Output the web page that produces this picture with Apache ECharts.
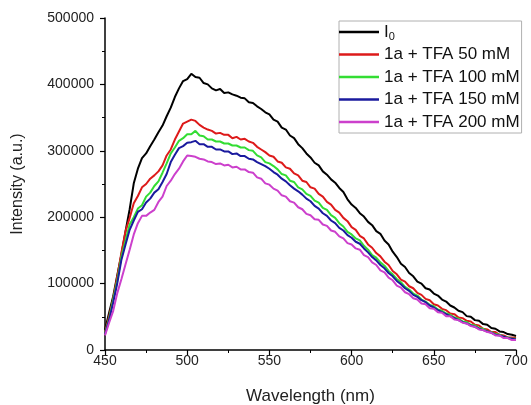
<!DOCTYPE html>
<html>
<head>
<meta charset="utf-8">
<script src="https://cdn.jsdelivr.net/npm/echarts@6/dist/echarts.min.js"></script>
<style>
  html, body { margin: 0; padding: 0; background: #fff; }
  #chart { width: 531px; height: 405px; }
</style>
</head>
<body>
<div id="chart"></div>
<script>
// 波长 (nm)
const wavelengths = [
  450, 452.5, 455, 457.5, 460, 462.5, 465, 467.5, 470, 472.5,
  475, 477.5, 480, 482.5, 485, 487.5, 490, 492.5, 495, 497.5,
  500, 502.5, 505, 507.5, 510, 512.5, 515, 517.5, 520, 522.5,
  525, 527.5, 530, 532.5, 535, 537.5, 540, 542.5, 545, 547.5,
  550, 552.5, 555, 557.5, 560, 562.5, 565, 567.5, 570, 572.5,
  575, 577.5, 580, 582.5, 585, 587.5, 590, 592.5, 595, 597.5,
  600, 602.5, 605, 607.5, 610, 612.5, 615, 617.5, 620, 622.5,
  625, 627.5, 630, 632.5, 635, 637.5, 640, 642.5, 645, 647.5,
  650, 652.5, 655, 657.5, 660, 662.5, 665, 667.5, 670, 672.5,
  675, 677.5, 680, 682.5, 685, 687.5, 690, 692.5, 695, 697.5, 700
]
const seriesNames = ['I0', '1a + TFA 50 mM', '1a + TFA 100 mM', '1a + TFA 150 mM', '1a + TFA 200 mM']
const seriesColors = ['#000000', '#dd1a1a', '#33dd33', '#1a1a9e', '#cc40cc']

const i0 = [
  30000, 56000, 81000, 113000, 144000, 179000, 212000, 251000, 273000, 289000,
  296000, 307000, 317000, 328000, 338000, 352000, 365000, 381000, 394000, 405000,
  408000, 416000, 411000, 410000, 402000, 400000, 394000, 391000, 393000, 387000,
  388000, 385000, 383000, 380000, 379000, 373000, 372000, 367000, 363000, 358000,
  355000, 347000, 344000, 335000, 332000, 323000, 319000, 310000, 304000, 296000,
  290000, 282000, 278000, 269000, 264000, 257000, 252000, 244000, 238000, 227000,
  219000, 214000, 206000, 201000, 193000, 188000, 179000, 175000, 165000, 159000,
  148000, 140000, 130000, 125000, 116000, 111000, 103000, 100000, 93000, 91000,
  85000, 82000, 76000, 73000, 67000, 64000, 59000, 57000, 51000, 50000,
  45000, 44000, 39000, 38000, 33000, 32000, 28000, 27000, 24000, 23000, 21000
]
const tfa50 = [
  26000, 51000, 77000, 111000, 147000, 179000, 199000, 221000, 232000, 245000,
  250000, 258000, 263000, 269000, 278000, 293000, 302000, 317000, 329000, 341000,
  344000, 347000, 345000, 339000, 335000, 332000, 330000, 326000, 327000, 324000,
  324000, 319000, 321000, 317000, 318000, 314000, 312000, 306000, 302000, 298000,
  293000, 291000, 284000, 282000, 275000, 273000, 266000, 263000, 255000, 253000,
  245000, 243000, 235000, 231000, 223000, 219000, 211000, 207000, 199000, 194000,
  185000, 181000, 172000, 168000, 159000, 154000, 146000, 141000, 133000, 128000,
  119000, 114000, 106000, 103000, 96000, 93000, 86000, 83000, 77000, 75000,
  69000, 67000, 62000, 60000, 55000, 54000, 49000, 48000, 44000, 43000,
  38000, 37000, 32000, 31000, 27000, 27000, 23000, 22000, 19000, 19000, 18000
]
const tfa100 = [
  25000, 47000, 76000, 105000, 141000, 165000, 189000, 200000, 213000, 218000,
  231000, 237000, 247000, 254000, 267000, 281000, 296000, 305000, 315000, 319000,
  325000, 325000, 330000, 323000, 322000, 317000, 317000, 314000, 314000, 311000,
  311000, 308000, 308000, 305000, 305000, 301000, 300000, 293000, 290000, 283000,
  281000, 277000, 272000, 265000, 263000, 255000, 253000, 245000, 242000, 235000,
  232000, 225000, 222000, 214000, 211000, 203000, 199000, 191000, 186000, 178000,
  174000, 168000, 165000, 157000, 151000, 143000, 139000, 132000, 127000, 119000,
  114000, 107000, 102000, 95000, 91000, 85000, 82000, 76000, 73000, 68000,
  66000, 61000, 59000, 55000, 53000, 49000, 47000, 43000, 42000, 38000,
  37000, 33000, 32000, 28000, 27000, 24000, 23000, 20000, 19000, 17000, 17000
]
const tfa150 = [
  24000, 45000, 72000, 101000, 136000, 159000, 181000, 195000, 208000, 212000,
  222000, 228000, 237000, 242000, 253000, 265000, 283000, 294000, 304000, 307000,
  312000, 313000, 315000, 310000, 310000, 306000, 306000, 302000, 302000, 299000,
  299000, 295000, 296000, 292000, 292000, 288000, 287000, 283000, 280000, 277000,
  273000, 268000, 264000, 258000, 254000, 248000, 243000, 239000, 234000, 228000,
  224000, 217000, 213000, 206000, 202000, 195000, 191000, 184000, 180000, 173000,
  169000, 163000, 160000, 153000, 147000, 140000, 135000, 128000, 123000, 116000,
  111000, 104000, 99000, 93000, 89000, 83000, 80000, 75000, 72000, 67000,
  64000, 60000, 57000, 54000, 51000, 48000, 45000, 42000, 40000, 37000,
  35000, 32000, 30000, 28000, 26000, 23000, 22000, 20000, 18000, 17000, 16000
]
const tfa200 = [
  22000, 41000, 59000, 86000, 107000, 129000, 151000, 174000, 191000, 202000,
  202000, 207000, 211000, 223000, 231000, 247000, 255000, 265000, 273000, 284000,
  293000, 292000, 291000, 288000, 287000, 284000, 283000, 280000, 281000, 278000,
  279000, 275000, 276000, 272000, 272000, 268000, 267000, 260000, 258000, 251000,
  249000, 243000, 240000, 233000, 231000, 224000, 222000, 215000, 212000, 205000,
  203000, 197000, 196000, 189000, 187000, 180000, 178000, 171000, 168000, 161000,
  159000, 153000, 151000, 143000, 140000, 132000, 128000, 120000, 117000, 109000,
  105000, 97000, 94000, 87000, 84000, 78000, 76000, 70000, 69000, 63000,
  62000, 57000, 56000, 51000, 51000, 46000, 45000, 41000, 40000, 36000,
  35000, 31000, 30000, 27000, 26000, 22000, 22000, 18000, 18000, 15000, 15000
]
const allValues = [i0, tfa50, tfa100, tfa150, tfa200]

const fontFamily = '"Liberation Sans", Arial, sans-serif'

const series = allValues.map((vals, k) => ({
  name: seriesNames[k],
  type: 'line',
  symbol: 'none',
  showSymbol: false,
  animation: false,
  lineStyle: { color: seriesColors[k], width: 2 },
  itemStyle: { color: seriesColors[k] },
  data: wavelengths.map((w, i) => [w, vals[i]])
}))

const options = {
  backgroundColor: '#fff',
  animation: false,
  grid: { left: 105, right: 15, top: 18, bottom: 55, outerBoundsMode: 'none', containLabel: false },
  legend: {
    orient: 'vertical',
    left: 339,
    top: 21,
    padding: [0, 2, 0, 0],
    borderColor: '#b0b0b0',
    borderWidth: 1,
    icon: 'rect',
    itemWidth: 40,
    itemHeight: 2.5,
    itemGap: 0.5,
    data: seriesNames,
    textStyle: {
      fontFamily: fontFamily,
      fontSize: 17,
      lineHeight: 22,
      color: '#111',
      rich: {
        sub: { fontFamily: fontFamily, fontSize: 11, color: '#111', padding: [9, 0, 0, 0] }
      }
    },
    formatter: function (name) {
      if (name === 'I0') return 'I{sub|0}'
      return name
    }
  },
  xAxis: {
    type: 'value',
    min: 450,
    max: 700,
    interval: 50,
    name: 'Wavelength (nm)',
    nameLocation: 'middle',
    nameGap: 38,
    nameTextStyle: { fontFamily: fontFamily, fontSize: 17, color: '#222' },
    axisLine: { lineStyle: { color: '#000', width: 1.5 } },
    axisTick: { length: 5, lineStyle: { color: '#000', width: 1.2 } },
    minorTick: { show: true, splitNumber: 2, length: 3, lineStyle: { color: '#000', width: 1 } },
    axisLabel: { fontFamily: fontFamily, fontSize: 14, color: '#222', margin: 4 },
    splitLine: { show: false }
  },
  yAxis: {
    type: 'value',
    min: 0,
    max: 500000,
    interval: 100000,
    name: 'Intensity (a.u.)',
    nameLocation: 'middle',
    nameGap: 79,
    nameTextStyle: { fontFamily: fontFamily, fontSize: 16, color: '#222' },
    axisLine: { show: true, lineStyle: { color: '#000', width: 1.5 } },
    axisTick: { show: true, length: 5, lineStyle: { color: '#000', width: 1.2 } },
    minorTick: { show: true, splitNumber: 2, length: 3, lineStyle: { color: '#000', width: 1 } },
    axisLabel: {
      fontFamily: fontFamily,
      fontSize: 14,
      color: '#222',
      margin: 11,
      formatter: function (v) { return String(v) }
    },
    splitLine: { show: false }
  },
  series: series
}

const myChart = echarts.init(document.getElementById('chart'))
myChart.setOption(options)
</script>
</body>
</html>
